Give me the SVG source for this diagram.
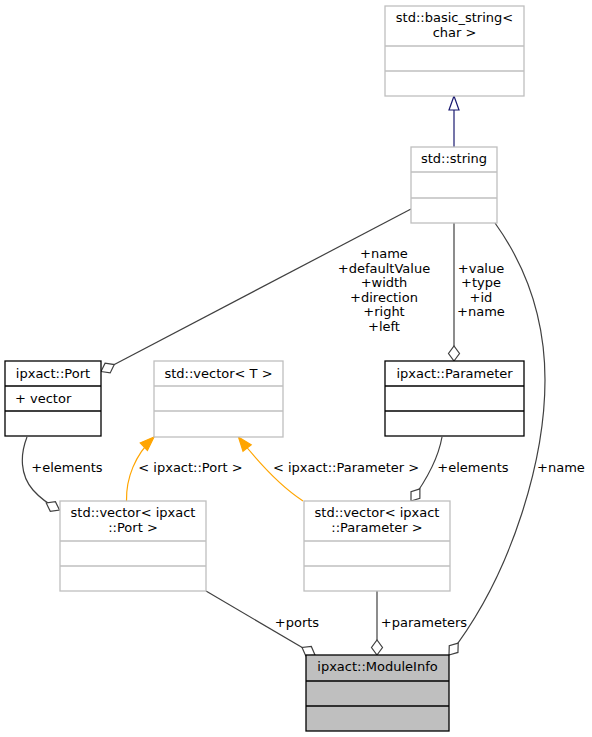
<svg xmlns="http://www.w3.org/2000/svg" width="592" height="737" viewBox="0 0 592 737">
<style>
  text { font-family: "DejaVu Sans", "Liberation Sans", sans-serif; font-size: 13px; fill: #000; }
  .c { text-anchor: middle; }
  .gray { fill: #ffffff; stroke: #bfbfbf; stroke-width: 1.3; }
  .grayl { stroke: #bfbfbf; stroke-width: 1.3; }
  .blk { fill: #ffffff; stroke: #000000; stroke-width: 1.3; }
  .main { fill: #bfbfbf; stroke: #000000; stroke-width: 1.3; }
  .blkl { stroke: #000000; stroke-width: 1.3; }
  .e { fill: none; stroke: #404040; stroke-width: 1.2; marker-end: url(#diam); }
  .o { fill: none; stroke: #ffa500; stroke-width: 1.2; marker-end: url(#arr); }
  .n { fill: none; stroke: #191970; stroke-width: 1.2; }
</style>
<defs>
  <marker id="diam" markerUnits="userSpaceOnUse" orient="auto" refX="0" refY="0" markerWidth="20" markerHeight="20" overflow="visible">
    <path d="M0,0 L-7.5,-5.5 L-15,0 L-7.5,5.5 Z" fill="#ffffff" stroke="#404040" stroke-width="1.2"/>
  </marker>
  <marker id="arr" markerUnits="userSpaceOnUse" orient="auto" refX="0" refY="0" markerWidth="20" markerHeight="20" overflow="visible">
    <path d="M0,0 L-14,-5.2 L-14,5.2 Z" fill="#ffa500" stroke="#ffa500" stroke-width="1.2"/>
  </marker>
</defs>
<rect x="0" y="0" width="592" height="737" fill="#ffffff"/>

<g id="edges">
  <path class="n" d="M454,147 L454,110"/>
  <polygon points="454,96 449,110 459,110" fill="#ffffff" stroke="#191970" stroke-width="1.2"/>
  <path class="e" d="M411,209 L101,371.5"/>
  <path class="e" d="M454,223 L454,361"/>
  <path class="e" d="M495,223 C520,258 545,310 545,380 C545,455 515,570 449,655"/>
  <path class="e" d="M27,437 C20,455 20,475 33,490 C40,498 50,505 59.5,510"/>
  <path class="o" d="M126.5,501 C126,478 135,455 154,437"/>
  <path class="o" d="M303,501 C280,486 258,462 238.5,437"/>
  <path class="e" d="M442,437 C438,460 425,482 411,501"/>
  <path class="e" d="M206,591 L315,655"/>
  <path class="e" d="M377,591 L377,655"/>
  <g>
    <text class="c" x="384" y="258">+name</text>
    <text class="c" x="384" y="272.6">+defaultValue</text>
    <text class="c" x="384" y="287.2">+width</text>
    <text class="c" x="384" y="301.8">+direction</text>
    <text class="c" x="384" y="316.4">+right</text>
    <text class="c" x="384" y="331">+left</text>
    <text class="c" x="481" y="272.6">+value</text>
    <text class="c" x="481" y="287.2">+type</text>
    <text class="c" x="481" y="301.8">+id</text>
    <text class="c" x="481" y="316.4">+name</text>
    <text class="c" x="561" y="471.5">+name</text>
    <text class="c" x="67" y="471.5">+elements</text>
    <text class="c" x="190.5" y="471.5">&lt; ipxact::Port &gt;</text>
    <text class="c" x="346" y="471.5">&lt; ipxact::Parameter &gt;</text>
    <text class="c" x="473" y="471.5">+elements</text>
    <text class="c" x="297" y="626.5">+ports</text>
    <text class="c" x="424" y="626.5">+parameters</text>
  </g>
</g>

<g id="node-basic-string">
  <rect class="gray" x="385" y="6" width="139" height="90"/>
  <line class="grayl" x1="385" y1="46" x2="524" y2="46"/>
  <line class="grayl" x1="385" y1="71" x2="524" y2="71"/>
  <text class="c" x="454.5" y="22">std::basic_string&lt;</text>
  <text class="c" x="454.5" y="36.5">char &gt;</text>
</g>

<g id="node-string">
  <rect class="gray" x="411" y="147" width="86" height="76"/>
  <line class="grayl" x1="411" y1="172" x2="497" y2="172"/>
  <line class="grayl" x1="411" y1="198" x2="497" y2="198"/>
  <text class="c" x="454" y="163">std::string</text>
</g>

<g id="node-port">
  <rect class="blk" x="5" y="361" width="96" height="75"/>
  <line class="blkl" x1="5" y1="386" x2="101" y2="386"/>
  <line class="blkl" x1="5" y1="411" x2="101" y2="411"/>
  <text class="c" x="53" y="377.5">ipxact::Port</text>
  <text x="15" y="402.5">+ vector</text>
</g>

<g id="node-vector-t">
  <rect class="gray" x="154" y="361" width="129" height="76"/>
  <line class="grayl" x1="154" y1="386" x2="283" y2="386"/>
  <line class="grayl" x1="154" y1="411" x2="283" y2="411"/>
  <text class="c" x="218.5" y="377.5">std::vector&lt; T &gt;</text>
</g>

<g id="node-parameter">
  <rect class="blk" x="385" y="361" width="139" height="75"/>
  <line class="blkl" x1="385" y1="386" x2="524" y2="386"/>
  <line class="blkl" x1="385" y1="411" x2="524" y2="411"/>
  <text class="c" x="454.5" y="377.5">ipxact::Parameter</text>
</g>

<g id="node-vector-port">
  <rect class="gray" x="60" y="501" width="146" height="90"/>
  <line class="grayl" x1="60" y1="541" x2="206" y2="541"/>
  <line class="grayl" x1="60" y1="566" x2="206" y2="566"/>
  <text class="c" x="133" y="517">std::vector&lt; ipxact</text>
  <text class="c" x="133" y="531.5">::Port &gt;</text>
</g>

<g id="node-vector-parameter">
  <rect class="gray" x="304" y="501" width="146" height="90"/>
  <line class="grayl" x1="304" y1="541" x2="450" y2="541"/>
  <line class="grayl" x1="304" y1="566" x2="450" y2="566"/>
  <text class="c" x="377" y="517">std::vector&lt; ipxact</text>
  <text class="c" x="377" y="531.5">::Parameter &gt;</text>
</g>

<g id="node-moduleinfo">
  <rect class="main" x="306" y="655" width="143" height="76"/>
  <line class="blkl" x1="306" y1="681" x2="449" y2="681"/>
  <line class="blkl" x1="306" y1="706" x2="449" y2="706"/>
  <text class="c" x="377.5" y="671">ipxact::ModuleInfo</text>
</g>
</svg>
